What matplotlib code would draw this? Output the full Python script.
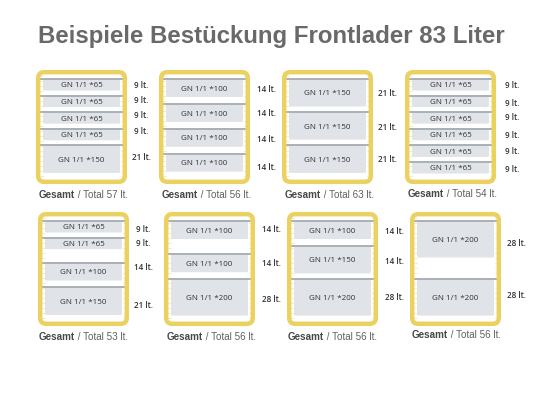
import matplotlib
matplotlib.use("Agg")
import matplotlib.pyplot as plt
from matplotlib.patches import FancyBboxPatch

title = "Beispiele Bestückung Frontlader 83 Liter"

# pan depth (mm) in each of the eight loading examples
pans_1 = [65, 65, 65, 65, 150]
pans_2 = [100, 100, 100, 100]
pans_3 = [150, 150, 150]
pans_4 = [65, 65, 65, 65, 65, 65]
pans_5 = [65, 65, 100, 150]
pans_6 = [100, 100, 200]
pans_7 = [100, 150, 200]
pans_8 = [200, 200]

# litres as printed next to each pan
liters_1 = [9, 9, 9, 9, 21]
liters_2 = [14, 14, 14, 14]
liters_3 = [21, 21, 21]
liters_4 = [9, 9, 9, 9, 9, 9]
liters_5 = [9, 9, 14, 21]
liters_6 = [14, 14, 28]
liters_7 = [14, 14, 28]
liters_8 = [28, 28]

totals = [57, 56, 63, 54, 53, 56, 56, 56]

all_pans = [pans_1, pans_2, pans_3, pans_4, pans_5, pans_6, pans_7, pans_8]
all_liters = [liters_1, liters_2, liters_3, liters_4, liters_5, liters_6, liters_7, liters_8]

# layout, in image pixels
frame_x = [36, 159, 282, 405, 38, 164, 287, 410]
frame_y = [70, 70, 70, 70, 212, 212, 212, 212]
frame_w = 91
frame_h = 114
slot_h = 16.6
rail_top = 9
pan_h = {65: 11.5, 100: 18, 150: 27.5, 200: 36.5}
slots = [
    [0, 1, 2, 3, 4],
    [0, 1.5, 3, 4.5],
    [0, 2, 4],
    [0, 1, 2, 3, 4, 5],
    [0, 1, 2.5, 4],
    [0, 2, 3.5],
    [0, 1.5, 3.5],
    [0, 3.5],
]
liter_x = [132, 257, 378, 503, 134, 262, 385, 507]
liter_y = [
    [86, 100.5, 116, 132, 157],
    [89, 114, 140, 167],
    [94, 127, 160],
    [85, 103, 118, 135, 152, 170],
    [229, 243, 268, 305],
    [229, 264, 299],
    [231, 261, 297],
    [244, 296],
]
total_x = [39, 162, 285, 408, 39, 166.5, 288, 412]
total_y = [195, 195, 195, 194, 337.5, 337.5, 336.5, 335.5]

YELLOW = "#ebd15f"
RAIL = "#a9b1b6"
PAN = "#e0e3e7"
TEXT = "#333335"
FONT = "Open Sans"

fig = plt.figure(figsize=(5.6, 4.2), dpi=100)
ax = fig.add_axes([0, 0, 1, 1])
ax.set_xlim(0, 560)
ax.set_ylim(420, 0)
ax.axis("off")

ax.text(38, 42.7, title, family="Liberation Sans", fontweight="bold", fontsize=17.25,
        color="#69696b", va="baseline", ha="left")

for i in range(8):
    x, y = frame_x[i], frame_y[i]

    # little yellow shelf marks down both inner sides
    for k in range(21):
        ty = y + 6 + k * 5
        ax.plot([x + 4, x + 6.5], [ty, ty], color=YELLOW, lw=0.5, alpha=0.55)
        ax.plot([x + frame_w - 6.5, x + frame_w - 4], [ty, ty], color=YELLOW, lw=0.5, alpha=0.55)

    ax.add_patch(FancyBboxPatch((x + 2.2, y + 2.2), frame_w - 4.4, frame_h - 4.4,
                                boxstyle="round,pad=0,rounding_size=6",
                                fc="none", ec=YELLOW, lw=3.2, zorder=4))

    for depth, slot in zip(all_pans[i], slots[i]):
        top = y + rail_top + slot * slot_h
        ax.add_patch(FancyBboxPatch((x + 7, top), frame_w - 14, pan_h[depth],
                                    boxstyle="round,pad=0,rounding_size=1.5",
                                    fc=PAN, ec="none", zorder=2))
        ax.plot([x + 4, x + frame_w - 4], [top, top], color=RAIL, lw=1.4, zorder=3,
                solid_capstyle="butt")
        ax.text(x + frame_w / 2, top + pan_h[depth] / 2 + 1.2, f"GN 1/1 *{depth}", family=FONT,
                fontsize=5.8, fontweight="medium", color=TEXT, ha="center", va="center", zorder=5)

    for lt, ly in zip(all_liters[i], liter_y[i]):
        ax.text(liter_x[i] + (2 if lt < 10 else 0), ly, f"{lt} lt.", family=FONT, fontsize=5.8,
                fontweight="semibold", color=TEXT, ha="left", va="center")

    t = ax.text(total_x[i], total_y[i], "Gesamt", family="Liberation Sans", fontweight="bold",
                fontsize=7.15, color="#48484a", ha="left", va="center")
    ax.annotate(f" / Total {totals[i]} lt.", xy=(1, 0.5), xycoords=t, family="Liberation Sans",
                fontsize=7.15, color="#606062", ha="left", va="center")

fig.savefig("out.png", dpi=100)
